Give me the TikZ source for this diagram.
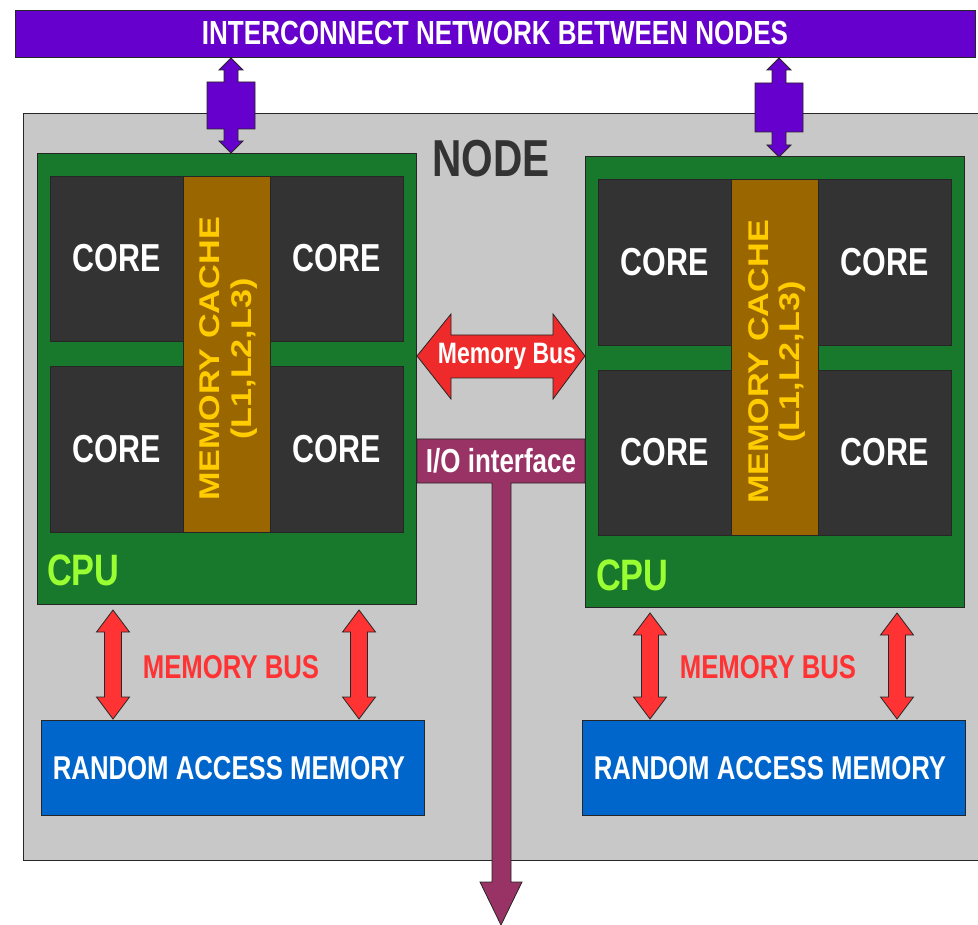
\documentclass[tikz,border=0pt]{standalone}
\usepackage{fontspec}
\setmainfont{Liberation Sans}
\newfontfamily\nfont{Liberation Sans}[FakeStretch=0.78]
\newfontfamily\wfont{Liberation Sans}[FakeStretch=1.2]
\usetikzlibrary{fit}
\definecolor{ipurple}{HTML}{6600CC}
\definecolor{ngray}{HTML}{C8C8C8}
\definecolor{cgreen}{HTML}{18792C}
\definecolor{cdark}{HTML}{333333}
\definecolor{corange}{HTML}{996600}
\definecolor{cgold}{HTML}{FFCC00}
\definecolor{clime}{HTML}{99FF33}
\definecolor{rblue}{HTML}{0066CC}
\definecolor{bred}{HTML}{FF3333}
\definecolor{hred}{HTML}{EE2A2A}
\definecolor{iomag}{HTML}{993366}
\tikzset{
  edge/.style={draw=black!85, line width=0.8pt},
  box/.style={edge, inner sep=0pt, outer sep=0pt},
  nodebg/.style={box, fill=ngray},
  cpubox/.style={box, fill=cgreen},
  corebox/.style={box, fill=cdark},
  cachebox/.style={box, fill=corange},
  rambox/.style={box, fill=rblue},
  netbox/.style={box, fill=ipurple},
  txt/.style={inner sep=0pt, font=\nfont\bfseries},
  coretxt/.style={txt, text=white, font=\nfont\bfseries\fontsize{39}{39}\selectfont},
  cachetxt/.style={inner sep=0pt, text=cgold, align=center, rotate=90,
     font=\wfont\bfseries\fontsize{28.5}{32}\selectfont},
  cputxt/.style={txt, text=clime, anchor=west, font=\nfont\bfseries\fontsize{44}{44}\selectfont},
  ramtxt/.style={txt, text=white, font=\nfont\bfseries\fontsize{33}{33}\selectfont},
  bustxt/.style={txt, text=bred, font=\nfont\bfseries\fontsize{33}{33}\selectfont},
  redarrow/.style={edge, fill=bred},
  netarrow/.style={edge, fill=ipurple},
}
% vertical double arrow: cx, ytop, ybottom
\newcommand\vdarrow[3]{%
  \draw[redarrow] (#1,#2) -- (#1+16.5,#2+22) -- (#1+8.5,#2+22) -- (#1+8.5,#3-22)
   -- (#1+16.5,#3-22) -- (#1,#3) -- (#1-16.5,#3-22) -- (#1-8.5,#3-22)
   -- (#1-8.5,#2+22) -- (#1-16.5,#2+22) -- cycle;}
% network connector: cx, boxtop, boxbottom, lower shoulder, bottom tip
\newcommand\netconn[5]{%
  \draw[netarrow] (#1,58) -- (#1+12,70) -- (#1+7,70) -- (#1+7,#2) -- (#1+24,#2)
   -- (#1+24,#3) -- (#1+7,#3) -- (#1+7,#4) -- (#1+12,#4) -- (#1,#5)
   -- (#1-12,#4) -- (#1-7,#4) -- (#1-7,#3) -- (#1-24,#3) -- (#1-24,#2)
   -- (#1-7,#2) -- (#1-7,70) -- (#1-12,70) -- cycle;}
\begin{document}
\begin{tikzpicture}[x=1pt,y=-1pt]
\useasboundingbox[fill=white] (0,0) rectangle (978,925);
% node background
\fill[ngray] (23,113) rectangle (985,860);
\draw[edge] (985,113) -- (23,113) -- (23,860) -- (985,860);
\node[inner sep=0pt, fit={(23,113)(978,860)}] (nodebox) {};
\node[txt, text=cdark, font=\nfont\bfseries\fontsize{52}{52}\selectfont] (nodelbl) at (491,159) {NODE};
% interconnect
\node[netbox, fit={(15,10)(975,57)}] (net) {};
\node[txt, text=white, font=\nfont\bfseries\fontsize{33.4}{33.4}\selectfont] (netlbl) at (495,33) {INTERCONNECT NETWORK BETWEEN NODES};
% ---------- left CPU
\node[cpubox, fit={(37,153)(416,604)}] (cpuL) {};
\node[corebox, fit={(50,176)(183,341)}] (cL1) {};
\node[corebox, fit={(270,176)(403,341)}] (cL2) {};
\node[corebox, fit={(50,366)(183,532)}] (cL3) {};
\node[corebox, fit={(270,366)(403,532)}] (cL4) {};
\node[cachebox, fit={(183,176)(270,532)}] (cacheL) {};
\node[coretxt] (tL1) at (cL1) {CORE};
\node[coretxt] (tL2) at (cL2) {CORE};
\node[coretxt] (tL3) at (cL3) {CORE};
\node[coretxt] (tL4) at (cL4) {CORE};
\node[cachetxt] (tcL) at (229,359) {MEMORY CACHE\\(L1,L2,L3)};
\node[cputxt] (cpuLt) at (47,570) {CPU};
% ---------- right CPU
\node[cpubox, fit={(585,156)(964,607)}] (cpuR) {};
\node[corebox, fit={(598,179)(731,345)}] (cR1) {};
\node[corebox, fit={(818,179)(951,345)}] (cR2) {};
\node[corebox, fit={(598,370)(731,535)}] (cR3) {};
\node[corebox, fit={(818,370)(951,535)}] (cR4) {};
\node[cachebox, fit={(731,179)(818,535)}] (cacheR) {};
\node[coretxt] (tR1) at (cR1) {CORE};
\node[coretxt] (tR2) at (cR2) {CORE};
\node[coretxt] (tR3) at (cR3) {CORE};
\node[coretxt] (tR4) at (cR4) {CORE};
\node[cachetxt] (tcR) at (777,362) {MEMORY CACHE\\(L1,L2,L3)};
\node[cputxt] (cpuRt) at (596,575) {CPU};
% ---------- RAM
\node[rambox, fit={(41,720)(424,815)}] (ramL) {};
\node[rambox, fit={(582,720)(965,815)}] (ramR) {};
\node[ramtxt] (ramLt) at (229,768) {RANDOM ACCESS MEMORY};
\node[ramtxt] (ramRt) at (770,768) {RANDOM ACCESS MEMORY};
% memory bus arrows
\vdarrow{113}{610}{719}
\vdarrow{359}{610}{719}
\vdarrow{650}{613}{719}
\vdarrow{897}{613}{719}
\node[bustxt] (busL) at (231,667) {MEMORY BUS};
\node[bustxt] (busR) at (768,667) {MEMORY BUS};
% network connectors
\netconn{231}{82}{129}{141}{153}
\netconn{779}{83}{132}{145}{157}
% memory bus between CPUs
\draw[edge, fill=hred] (417,356) -- (451,314) -- (451,335) -- (553,335) -- (553,314)
  -- (585,356) -- (553,399) -- (553,378) -- (451,378) -- (451,399) -- cycle;
\node[txt, text=white, font=\nfont\bfseries\fontsize{29.5}{29.5}\selectfont] (mbus) at (507,356) {Memory Bus};
% I/O interface
\draw[edge, fill=iomag] (417,439) -- (585,439) -- (585,483) -- (511,483) -- (511,882)
  -- (522,882) -- (501,925) -- (480,882) -- (492,882) -- (492,483) -- (417,483) -- cycle;
\node[txt, text=white, font=\nfont\bfseries\fontsize{33.3}{33.3}\selectfont] (iot) at (501,461) {I/O interface};
\end{tikzpicture}
\end{document}
